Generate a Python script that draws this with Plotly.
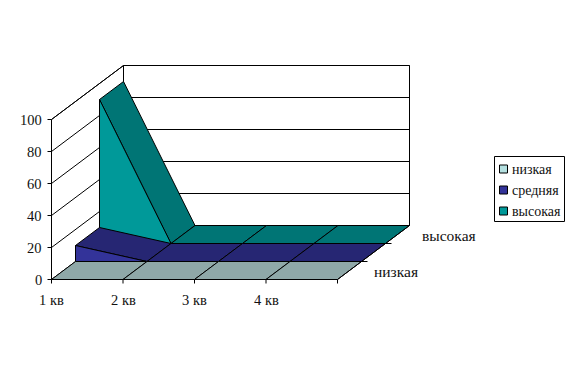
import plotly.graph_objects as go

categories = ["1 кв", "2 кв", "3 кв", "4 кв", ""]
series_names = ["низкая", "средняя", "высокая"]
low = [0, 0, 0, 0, 0]
mid = [10, 0, 0, 0, 0]
high = [90, 0, 0, 0, 0]
value_ticks = [0, 20, 40, 60, 80, 100]
depth_labels = {0: "низкая", 2: "высокая"}

front_colors = ["#B4E0E0", "#333399", "#009999"]
top_colors = ["#8FA8A8", "#262673", "#007575"]

OX, OY = 51.5, 279.5
DX, VY, DZX, DZY = 71.5, 1.6, 24.0, -18.0


def px(i, v, z):
    return OX + i * DX + z * DZX, OY - v * VY + z * DZY


fig = go.Figure()


def poly(points, fill=None, name=None, width=1):
    xs, ys = zip(*points)
    fig.add_trace(go.Scatter(
        x=list(xs), y=list(ys), mode="lines",
        line=dict(color="black", width=width),
        fill="toself" if fill else None,
        fillcolor=fill, name=name, showlegend=False, hoverinfo="skip"))


n = len(categories) - 1
vmax = value_ticks[-1]
# walls and gridlines
poly([px(0, 0, 0), px(0, vmax, 0), px(0, vmax, 3), px(n, vmax, 3), px(n, 0, 3), px(0, 0, 3), px(0, 0, 0)], fill="white")
poly([px(0, 0, 3), px(0, vmax, 3)])
for t in value_ticks[1:]:
    poly([px(0, t, 0), px(0, t, 3), px(n, t, 3)])

# front axis ticks
for i in range(n + 1):
    x, y = px(i, 0, 0)
    poly([(x, y), (x, y + 4)])
for t in value_ticks:
    x, y = px(0, t, 0)
    poly([(x - 4, y), (x, y)])
for z in (1, 2):
    x, y = px(n, 0, z)
    poly([(x, y), (x + 6, y)])

# series, back to front
all_values = [low, mid, high]
for k in (2, 1, 0):
    vals = all_values[k]
    z0, z1 = k, k + 1
    for i in range(n):
        poly([px(i, vals[i], z0), px(i, vals[i], z1), px(i + 1, vals[i + 1], z1), px(i + 1, vals[i + 1], z0),
              px(i, vals[i], z0)], fill=top_colors[k], name=series_names[k])
    if any(vals):
        poly([px(0, 0, z0), px(0, vals[0], z0)] + [px(i, vals[i], z0) for i in range(1, n + 1)] + [px(n, 0, z0), px(0, 0, z0)],
             fill=front_colors[k], name=series_names[k])
poly([px(0, 0, 0), px(n, 0, 0), px(n, 0, 3)])


def text_font(size):
    return dict(family="Liberation Serif", size=size, color="#111")


annotations = []
for t in value_ticks:
    x, y = px(0, t, 0)
    annotations.append(dict(x=x - 8, y=y + 0.5, text=str(t), xanchor="right", yanchor="middle", font=text_font(14.5)))
for i, c in enumerate(categories):
    if c:
        x, y = px(i, 0, 0)
        annotations.append(dict(x=x, y=y + 20, text=c, xanchor="center", yanchor="middle", font=text_font(14.5)))
for z, label in depth_labels.items():
    x, y = px(n, 0, z)
    annotations.append(dict(x=x + 34, y=y - 8, text=label, xanchor="left", yanchor="middle", font=text_font(15.5)))

shapes = [dict(type="rect", x0=494.5, y0=156.5, x1=564.5, y1=221.5, line=dict(color="black", width=1), fillcolor="white", layer="above")]
for k, name in enumerate(series_names):
    yc = 169 + 21 * k
    shapes.append(dict(type="rect", x0=499.5, x1=507.5, y0=yc - 4, y1=yc + 4, line=dict(color="black", width=1), fillcolor=front_colors[k], layer="above"))
    annotations.append(dict(x=510, y=yc, text=name, xanchor="left", yanchor="middle", font=text_font(14)))
for a in annotations:
    a.update(xref="x", yref="y", showarrow=False)

fig.update_layout(
    width=575, height=379, margin=dict(l=0, r=0, t=0, b=0),
    paper_bgcolor="white", plot_bgcolor="white", showlegend=False,
    xaxis=dict(range=[0, 575], visible=False, fixedrange=True),
    yaxis=dict(range=[379, 0], visible=False, fixedrange=True),
    annotations=annotations, shapes=shapes,
)
fig.write_html("out.html", post_script="document.body.style.margin='0';", config={"displayModeBar": False})
